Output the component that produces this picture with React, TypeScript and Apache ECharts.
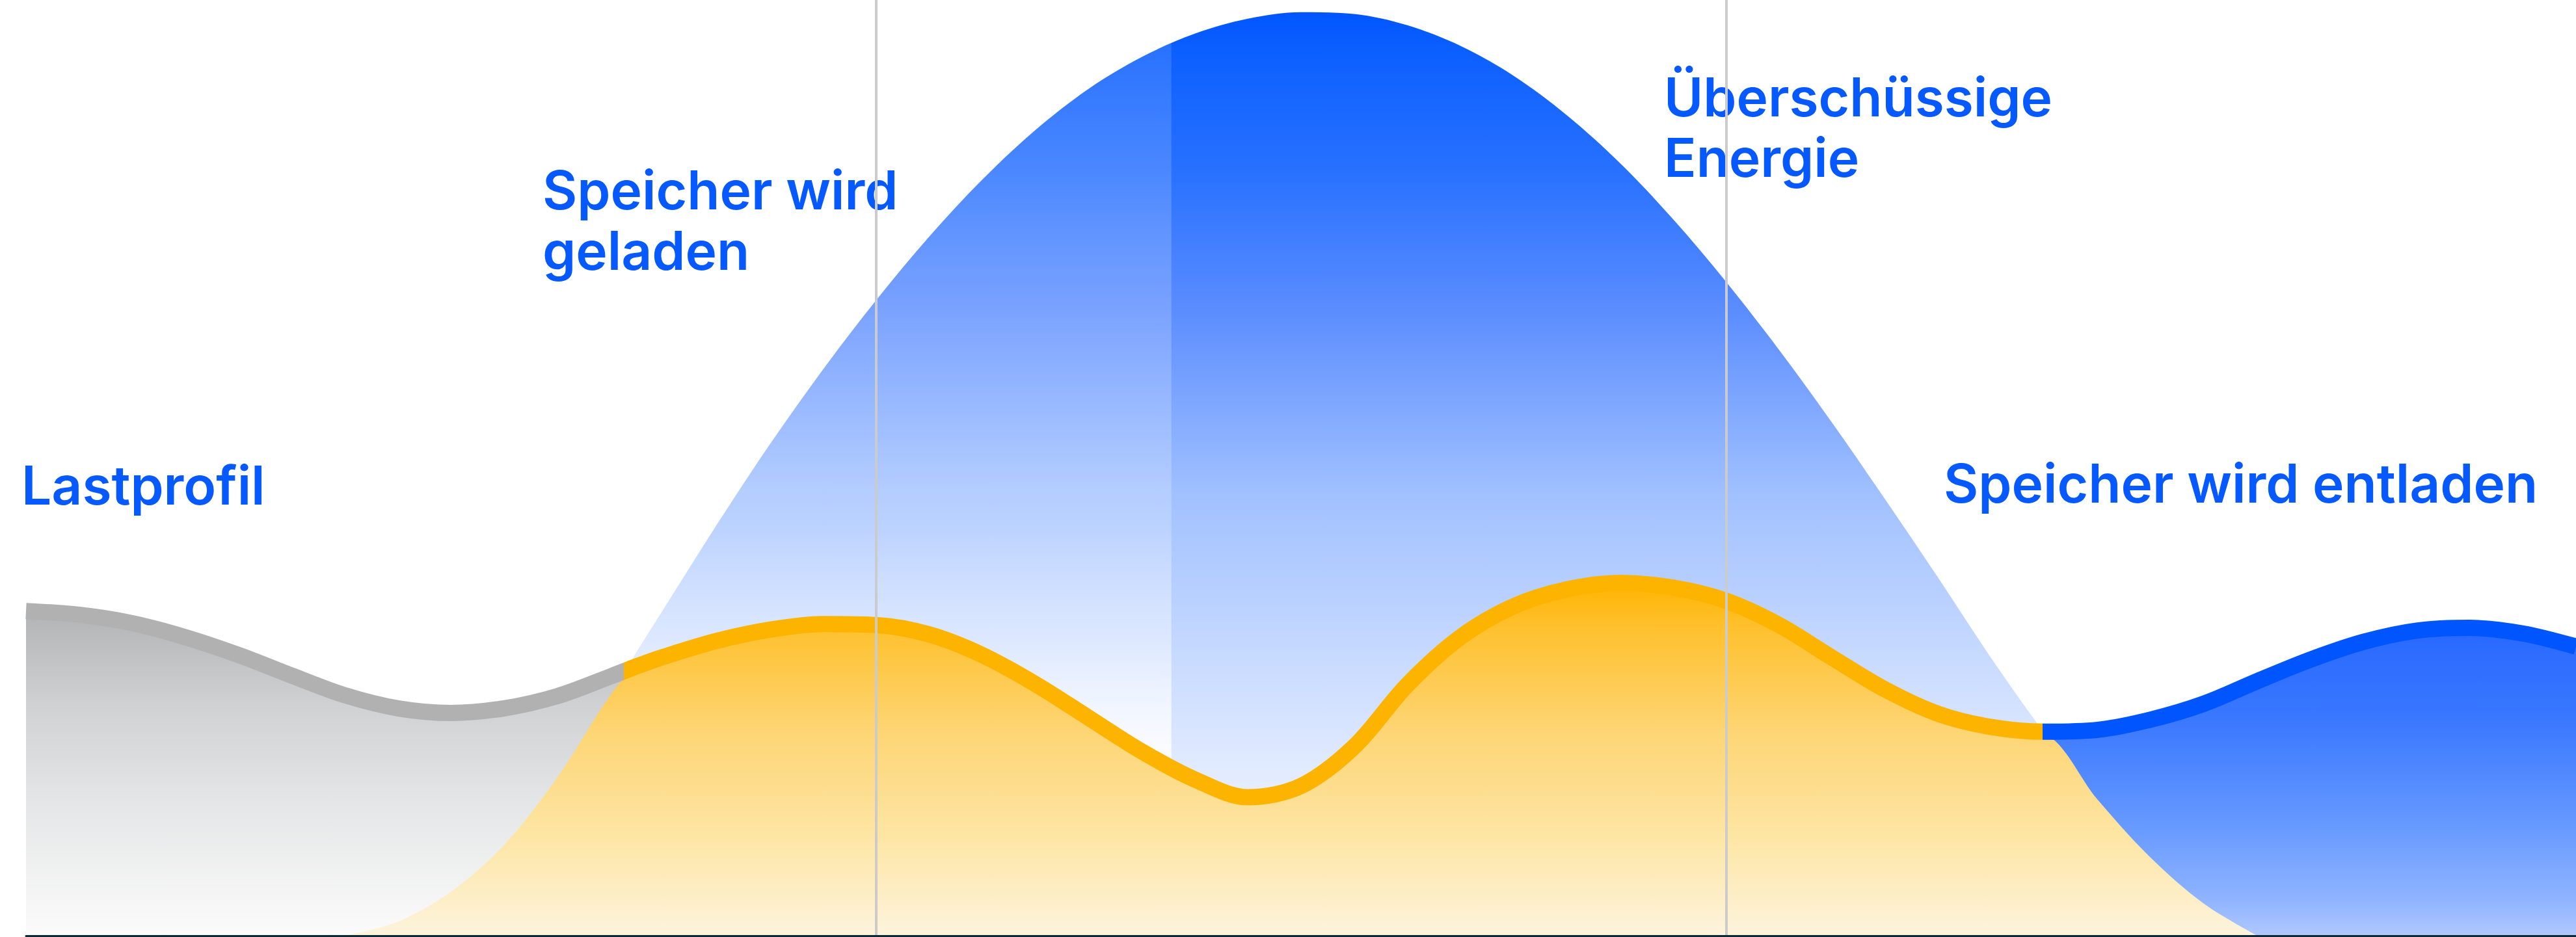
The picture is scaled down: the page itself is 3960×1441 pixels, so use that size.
import React, { useEffect, useRef } from "react";
import * as echarts from "echarts";

// x: hour of day, y: relative power (0–100)
const hours = [
  0, 0.5, 1, 1.5, 2, 2.5, 3, 3.5, 4, 4.5, 5, 5.5, 5.75, 6, 6.5, 7, 7.5, 8, 8.5, 9,
  9.5, 10, 10.5, 11, 11.5, 12, 12.5, 13, 13.5, 14, 14.5, 15, 15.5, 16, 16.5, 17,
  17.5, 18, 18.5, 19, 19.5, 20, 20.5, 21, 21.5, 22, 22.5, 23, 23.5, 24,
];

// Lastprofil (household load)
const load = [
  34.7, 34.3, 33.4, 31.9, 30.0, 27.8, 25.7, 24.3, 23.8, 24.3, 25.6, 27.7, 28.8, 29.8,
  31.5, 32.7, 33.3, 33.2, 32.2, 30.0, 26.9, 23.3, 19.7, 16.7, 14.8, 16.0, 20.2, 26.8,
  31.9, 35.2, 37.0, 37.7, 37.2, 35.8, 33.2, 29.7, 26.3, 23.7, 22.3, 21.8, 22.0, 23.1,
  24.8, 27.2, 29.5, 31.4, 32.6, 32.9, 32.3, 30.9,
];

// PV production
const solar = [
  null, null, null, null, null, null, 0, 1.5, 4.7, 9.7, 16.9, 25.7, 30.4, 34.9, 43.9,
  52.5, 60.5, 67.9, 74.7, 80.8, 86.1, 90.5, 93.9, 96.4, 98.0, 98.7, 98.5, 97.3, 95.1,
  91.9, 87.7, 82.6, 76.6, 69.9, 62.6, 54.8, 46.6, 38.2, 29.6, 21.6, 14.5, 8.3, 3.4, 0,
  null, null, null, null, null, null,
];

const dividerHours = [8, 16];
const chargeEndHour = 10.78; // end of the lighter "charging" band
const crossMorning = 5.63; // load line turns orange
const crossEvening = 18.98; // load line turns blue
const splitHour = 12; // grey load fill left, blue load fill right

const labels = [
  { lines: ["Lastprofil"], x: 33, baseline: 776 },
  { lines: ["Speicher wird", "geladen"], x: 834, baseline: 322 },
  { lines: ["Überschüssige", "Energie"], x: 2558, baseline: 179 },
  { lines: ["Speicher wird entladen"], x: 2988, baseline: 773 },
];

const BLUE = "#0055ff";
const ORANGE = "#fdb400";
const GREY = "#b1b1b1";
const TEXT_BLUE = "#0659ff";
const FONT_SIZE = 82;
const LINE_GAP = 93;
const SMOOTH = 0.33;

const lg = (stops: [number, string][]) =>
  new echarts.graphic.LinearGradient(
    0,
    0,
    0,
    1,
    stops.map(([offset, color]) => ({ offset, color }))
  );

export default function App() {
  const ref = useRef<HTMLDivElement>(null);

  useEffect(() => {
    document.body.style.margin = "0";
    if (!ref.current) return;
    const chart = echarts.init(ref.current, undefined, { renderer: "svg" });

    const solarPts = hours.map((h, i) => [h, solar[i]]);
    const loadLeft = hours
      .map((h, i) => [h, load[i]])
      .filter(([h]) => (h as number) <= splitHour);
    const loadRight = hours
      .map((h, i) => [h, load[i]])
      .filter(([h]) => (h as number) >= splitHour);
    const ownUse = hours.map((h, i) => [
      h,
      solar[i] == null ? null : Math.min(load[i], solar[i] as number),
    ]);
    const loadPts = hours.map((h, i) => [h, load[i]]);

    const graphics: any[] = [];
    labels.forEach((lab) => {
      lab.lines.forEach((t, k) => {
        graphics.push({
          type: "text",
          z: 10,
          x: lab.x,
          y: lab.baseline + k * LINE_GAP - 30,
          silent: true,
          style: {
            text: t,
            fill: TEXT_BLUE,
            font: `600 ${FONT_SIZE}px Inter`,
            fontFamily: "Inter",
            fontWeight: 600,
            fontSize: FONT_SIZE,
            align: "left",
            verticalAlign: "middle",
            textAlign: "left",
            textVerticalAlign: "middle",
          },
        });
      });
    });

    const areaOnly = {
      type: "line",
      smooth: SMOOTH,
      symbol: "none",
      lineStyle: { width: 0, opacity: 0 },
    };

    const option: any = {
      animation: false,
      backgroundColor: "#ffffff",
      grid: { left: 40, right: 0, top: 0, bottom: 2 },
      xAxis: {
        type: "value",
        min: 0,
        max: 24,
        z: 30,
        axisLine: { show: true, lineStyle: { color: "#0b2a35", width: 3 } },
        axisTick: { show: false },
        axisLabel: { show: false },
        splitLine: { show: false },
      },
      yAxis: {
        type: "value",
        min: 0,
        max: 100,
        show: false,
        splitLine: { show: false },
      },
      visualMap: [
        {
          type: "piecewise",
          show: false,
          dimension: 0,
          seriesIndex: 4,
          pieces: [
            { lt: crossMorning, color: GREY },
            { gte: crossMorning, lt: crossEvening, color: ORANGE },
            { gte: crossEvening, color: BLUE },
          ],
        },
      ],
      graphic: graphics,
      series: [
        {
          ...areaOnly,
          name: "PV-Erzeugung",
          z: 2,
          data: solarPts,
          areaStyle: {
            opacity: 1,
            color: lg([
              [0, "#0055ff"],
              [0.035, "#0a5eff"],
              [0.18, "#2a72ff"],
              [0.32, "#5a8cff"],
              [0.52, "#a0c0ff"],
              [0.81, "#e0eaff"],
              [1, "#ffffff"],
            ]),
          },
          markArea: {
            z: 3,
            silent: true,
            itemStyle: {
              borderWidth: 0,
              color: lg([
                [0, "rgba(255,255,255,0.10)"],
                [0.044, "rgba(255,255,255,0.12)"],
                [0.246, "rgba(255,255,255,0.18)"],
                [0.56, "rgba(255,255,255,0.22)"],
                [0.685, "rgba(255,255,255,0.43)"],
                [0.787, "rgba(255,255,255,0.78)"],
                [0.852, "rgba(255,255,255,1)"],
                [1, "rgba(255,255,255,1)"],
              ]),
            },
            label: { show: false },
            data: [[{ xAxis: 0 }, { xAxis: chargeEndHour }]],
          },
        },
        {
          ...areaOnly,
          name: "Netzbezug",
          z: 4,
          data: loadLeft,
          areaStyle: {
            opacity: 1,
            color: lg([
              [0, "#b4b5b7"],
              [0.04, "#b6b7b9"],
              [0.29, "#d0d1d3"],
              [0.58, "#e4e5e6"],
              [1, "#fbfbfb"],
            ]),
          },
        },
        {
          ...areaOnly,
          name: "Speicherentladung",
          z: 4,
          data: loadRight,
          areaStyle: {
            opacity: 1,
            color: lg([
              [0, "#0a55ff"],
              [0.16, "#2a6aff"],
              [0.39, "#3a78ff"],
              [0.71, "#6a9cff"],
              [0.9, "#90b4ff"],
              [1, "#b0c8ff"],
            ]),
          },
        },
        {
          ...areaOnly,
          name: "Eigenverbrauch",
          z: 5,
          data: ownUse,
          areaStyle: {
            opacity: 1,
            color: lg([
              [0, "#ffb400"],
              [0.12, "#fec02c"],
              [0.42, "#fdd574"],
              [0.73, "#fde6a6"],
              [0.95, "#fdf1d3"],
              [1, "#fdf4dc"],
            ]),
          },
        },
        {
          name: "Lastprofil",
          type: "line",
          z: 6,
          data: loadPts,
          smooth: SMOOTH,
          symbol: "none",
          lineStyle: { width: 25, cap: "butt" },
          markLine: {
            z: 20,
            silent: true,
            symbol: ["none", "none"],
            label: { show: false },
            lineStyle: { color: "#cbcbcb", width: 4, type: "solid" },
            data: dividerHours.map((h) => ({ xAxis: h })),
          },
        },
      ],
    };

    chart.setOption(option);
    return () => chart.dispose();
  }, []);

  return (
    <div
      ref={ref}
      style={{ position: "fixed", left: 0, top: 0, width: 3960, height: 1441 }}
    />
  );
}
